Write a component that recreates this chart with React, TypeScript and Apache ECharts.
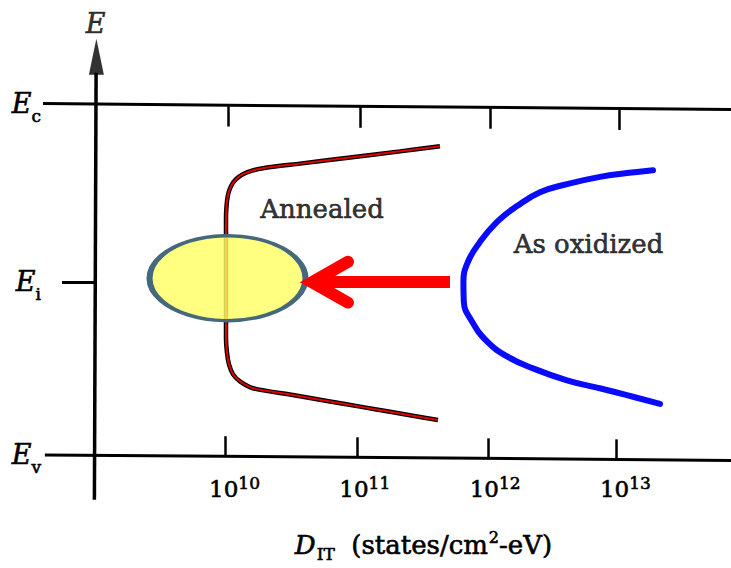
import React, { useEffect, useRef } from 'react';
import * as echarts from 'echarts';

// Axis extents: x = log10(D_IT), y = energy above Ev (eV)
const X_MIN = 8.5955;
const X_MAX = 13.8757;
const Y_MIN = -0.1424;
const Y_MAX = 1.4462;

// Tick labels (exponents of 10) and energy levels
const TICK_EXPONENTS = [10, 11, 12, 13];
const LEVEL_VALUES = [0, 0.55, 1.117];
const LEVEL_SUBS = ['v', 'i', 'c'];

// Frame lines (data coordinates)
const EC_LINE = [[8.5955, 1.117], [13.8757, 1.098]];
const EV_LINE = [[8.61, 0.0], [13.8757, -0.0174]];
const E_AXIS = [[8.99, -0.1424], [9.003, 1.215]];
const EI_TICK = [[8.741, 0.55], [9.0, 0.55]];
const E_ARROW_HEAD = [9.005, 1.266];
const E_LABEL_POS = [9.0, 1.373];
const TOP_TICKS = [
  [[10.015, 1.112], [10.015, 1.044]],
  [[11.028, 1.108], [11.028, 1.04]],
  [[12.026, 1.105], [12.026, 1.037]],
  [[13.016, 1.101], [13.016, 1.033]],
];
const BOTTOM_TICKS = [
  [[9.992, -0.0045], [9.992, 0.0595]],
  [[11.005, -0.0079], [11.005, 0.056]],
  [[12.011, -0.0113], [12.011, 0.0527]],
  [[12.993, -0.0145], [12.993, 0.0495]],
];

// Curves: [log10 D_IT, E]
const ANNEALED = [
  [11.642, 0.981], [11.335, 0.965], [10.952, 0.9456], [10.568, 0.926],
  [10.284, 0.9114], [10.2, 0.9035], [10.13, 0.8924], [10.077, 0.8766],
  [10.038, 0.8544], [10.015, 0.826], [10.004, 0.791], [10.0, 0.75],
  [10.0, 0.65], [10.0, 0.55], [10.0, 0.45], [10.0, 0.37],
  [10.008, 0.323], [10.023, 0.288], [10.054, 0.256], [10.107, 0.234],
  [10.207, 0.212], [10.514, 0.1902], [10.798, 0.1699], [11.028, 0.1535],
  [11.259, 0.137], [11.412, 0.1259], [11.627, 0.1108],
];
const AS_OXIDIZED = [
  [13.277, 0.905], [13.077, 0.896], [12.87, 0.884], [12.617, 0.861],
  [12.41, 0.835], [12.233, 0.791], [12.08, 0.741], [11.949, 0.677],
  [11.857, 0.614], [11.822, 0.551], [11.825, 0.487], [11.888, 0.424],
  [12.003, 0.361], [12.157, 0.313], [12.356, 0.275], [12.617, 0.237],
  [12.847, 0.214], [13.077, 0.19], [13.331, 0.162],
];

// Annotations
const ELLIPSE_CENTER = [10.0115, 0.5617];
const ARROW_SHAFT = [[11.719, 0.5491], [10.66, 0.5491]];
const ARROW_HEAD = [[10.936, 0.6139], [10.66, 0.5491], [10.936, 0.4842]];
const CURVE_LABELS = [
  { name: 'Annealed', value: [10.737, 0.7816] },
  { name: 'As oxidized', value: [12.782, 0.669] },
];

const SERIF = 'DejaVu Serif';
const INK = '#000000';
const BOLDEN = { textBorderColor: '#000000', textBorderWidth: 0.6 };

export default function App() {
  const ref = useRef<HTMLDivElement>(null);
  useEffect(() => {
    const chart = echarts.init(ref.current as HTMLDivElement, null, { renderer: 'svg' });
    const segs = (list: number[][][], color: string, width: number, z = 2) => ({
      type: 'lines',
      coordinateSystem: 'cartesian2d',
      z,
      silent: true,
      data: list.map((c) => ({ coords: c })),
      lineStyle: { color, width, opacity: 1, curveness: 0, cap: 'butt' },
      effect: { show: false },
    });
    chart.setOption({
      animation: false,
      backgroundColor: '#ffffff',
      grid: { left: 43, right: 0, top: 0, bottom: 66 },
      xAxis: {
        type: 'value',
        min: X_MIN,
        max: X_MAX,
        axisLine: { show: false },
        axisTick: { show: false },
        splitLine: { show: false },
        axisLabel: {
          customValues: TICK_EXPONENTS,
          inside: true,
          margin: -4,
          padding: [0, 0, 0, 17],
          formatter: (v: number) => `{b|10}{p|${Math.round(v)}}`,
          rich: {
            b: { fontFamily: SERIF, fontSize: 23, color: INK, ...BOLDEN },
            p: { fontFamily: SERIF, fontSize: 17, color: INK, padding: [0, 0, 12, 0], ...BOLDEN },
          },
        },
        name: '{d|D}{it|IT}{t|  (states/cm}{sq|2}{t|-eV)}',
        nameLocation: 'middle',
        nameGap: 28,
        nameTextStyle: {
          padding: [0, 0, 0, 73],
          rich: {
            d: { fontFamily: SERIF, fontStyle: 'italic', fontSize: 26, color: INK, ...BOLDEN },
            it: { fontFamily: SERIF, fontSize: 17, color: INK, padding: [18, 0, 0, 1], ...BOLDEN },
            t: { fontFamily: SERIF, fontSize: 26, color: INK, ...BOLDEN },
            sq: { fontFamily: SERIF, fontSize: 16, color: INK, padding: [0, 0, 16, 1], ...BOLDEN },
          },
        },
      },
      yAxis: {
        type: 'value',
        min: Y_MIN,
        max: Y_MAX,
        axisLine: { show: false },
        axisTick: { show: false },
        splitLine: { show: false },
        axisLabel: {
          customValues: LEVEL_VALUES,
          margin: 2,
          formatter: (v: number) => {
            const i = LEVEL_VALUES.findIndex((l) => Math.abs(l - v) < 1e-6);
            return `{e|E}{s|${LEVEL_SUBS[i] ?? ''}}`;
          },
          rich: {
            e: { fontFamily: SERIF, fontStyle: 'italic', fontSize: 27, color: INK, ...BOLDEN },
            s: { fontFamily: SERIF, fontSize: 17, color: INK, padding: [24, 0, 0, 0], ...BOLDEN },
          },
        },
      },
      series: [
        segs([EC_LINE, EV_LINE], INK, 3),
        segs([E_AXIS], INK, 3.5),
        segs([EI_TICK], INK, 3),
        segs([...TOP_TICKS, ...BOTTOM_TICKS], INK, 2.5),
        {
          type: 'scatter',
          z: 3,
          silent: true,
          symbol: 'triangle',
          symbolSize: [15, 36],
          itemStyle: { color: INK },
          data: [E_ARROW_HEAD],
        },
        {
          type: 'line',
          z: 4,
          silent: true,
          symbol: 'none',
          smooth: 0.25,
          data: ANNEALED,
          lineStyle: { color: '#000000', width: 4.5 },
        },
        {
          type: 'line',
          z: 5,
          silent: true,
          symbol: 'none',
          smooth: 0.25,
          data: ANNEALED,
          lineStyle: { color: '#e00000', width: 2 },
        },
        {
          type: 'scatter',
          z: 6,
          silent: true,
          symbol: 'circle',
          symbolSize: [156, 85],
          itemStyle: { color: 'rgba(255,255,100,0.82)', borderColor: '#46687d', borderWidth: 4.5, opacity: 1 },
          data: [ELLIPSE_CENTER],
        },
        {
          type: 'line',
          z: 7,
          silent: true,
          symbol: 'none',
          smooth: 0.45,
          data: AS_OXIDIZED,
          lineStyle: { color: '#0a0aff', width: 6, cap: 'round' },
        },
        segs([ARROW_SHAFT], '#ff0000', 12, 8),
        {
          type: 'line',
          z: 8,
          silent: true,
          symbol: 'none',
          data: ARROW_HEAD,
          lineStyle: { color: '#ff0000', width: 12, cap: 'round', join: 'miter' },
        },
        {
          type: 'scatter',
          z: 9,
          silent: true,
          symbolSize: 1,
          itemStyle: { color: 'rgba(0,0,0,0)' },
          label: {
            show: true,
            position: 'inside',
            formatter: '{b}',
            fontFamily: SERIF,
            fontSize: 26,
            color: INK,
            ...BOLDEN,
          },
          data: CURVE_LABELS,
        },
        {
          type: 'scatter',
          z: 9,
          silent: true,
          clip: false,
          symbolSize: 1,
          itemStyle: { color: 'rgba(0,0,0,0)' },
          label: {
            show: true,
            position: 'inside',
            formatter: 'E',
            fontFamily: SERIF,
            fontStyle: 'italic',
            fontSize: 27,
            color: INK,
            ...BOLDEN,
          },
          data: [E_LABEL_POS],
        },
      ],
    });
    return () => chart.dispose();
  }, []);
  return (
    <div
      ref={ref}
      style={{ position: 'fixed', left: 0, top: 0, width: 731, height: 568, background: '#fff' }}
    />
  );
}
